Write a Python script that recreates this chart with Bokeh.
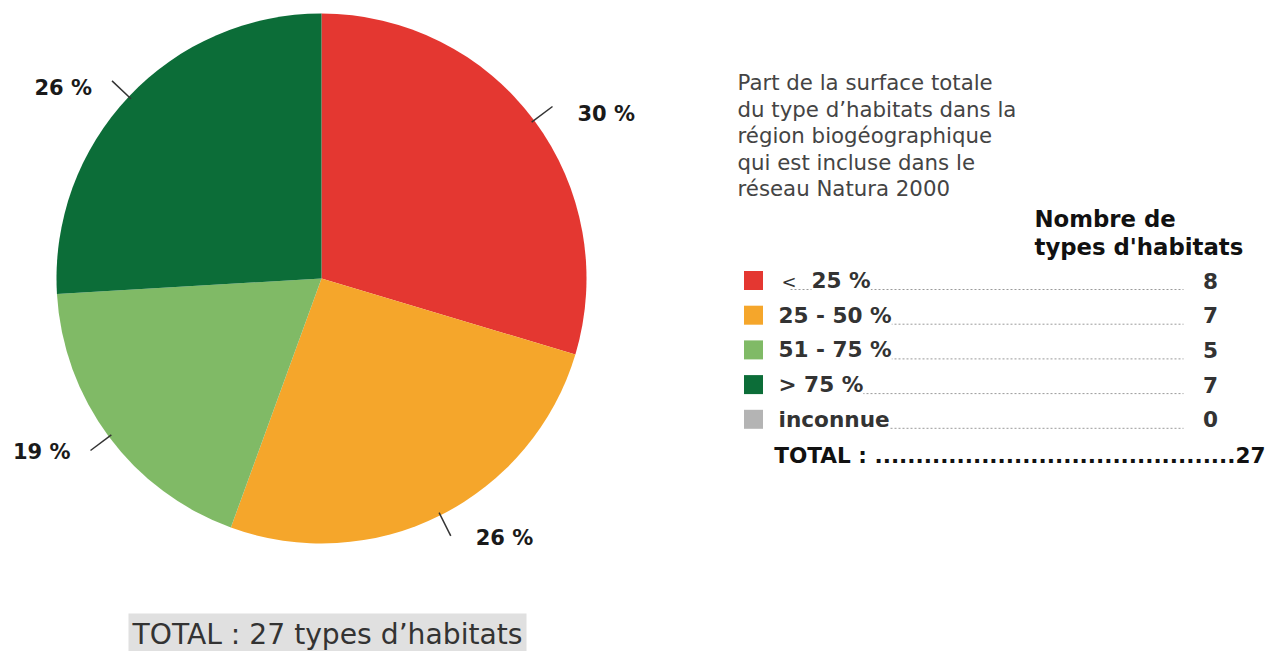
import math
from bokeh.plotting import figure
from bokeh.models import Range1d
from bokeh.core.properties import value
from bokeh.embed import file_html
from bokeh.resources import INLINE

# ---- data ----
categories = ["< 25 %", "25 - 50 %", "51 - 75 %", "> 75 %", "inconnue"]
counts = [8, 7, 5, 7, 0]
colors = ["#E43731", "#F5A62B", "#80BA66", "#0C6D38", "#B4B4B4"]
description = ["Part de la surface totale", "du type d’habitats dans la",
               "région biogéographique", "qui est incluse dans le",
               "réseau Natura 2000"]
header = ["Nombre de", "types d'habitats"]
total_label = "TOTAL : {} types d’habitats"
total = sum(counts)

FONT = value("DejaVu Sans")
W, H = 1268, 651
p = figure(width=W, height=H, x_range=Range1d(0, W), y_range=Range1d(0, H),
           output_backend="svg", toolbar_location=None, min_border=0,
           x_axis_location=None, y_axis_location=None, outline_line_color=None)
p.grid.visible = False


def sy(v):
    return H - v


def txt(x, y, s, **kw):
    base = dict(text_baseline="middle", text_font=FONT)
    base.update(kw)
    p.text(x=x, y=y, text=value(s), **base)


# ---- pie ----
cx, cy, r = 321, sy(278), 265
cum = 0.0
for cat, c, col in zip(categories, counts, colors):
    if c == 0:
        continue
    frac = c / total
    a0 = math.pi / 2 - 2 * math.pi * cum
    a1 = math.pi / 2 - 2 * math.pi * (cum + frac)
    p.wedge(x=cx, y=cy, radius=r, start_angle=a0, end_angle=a1, direction="clock",
            fill_color=col, line_color=None)
    mid = (a0 + a1) / 2
    x1, y1 = cx + 262 * math.cos(mid), cy + 262 * math.sin(mid)
    x2, y2 = cx + 288 * math.cos(mid), cy + 288 * math.sin(mid)
    p.segment(x0=x1, y0=y1, x1=x2, y1=y2, line_color="#333333", line_width=1.5)
    right = math.cos(mid) > 0
    dy = -7 if math.sin(mid) > 0 else -2
    txt(x2 + (25 if right else -20), y2 + dy, f"{round(100 * frac)} %",
        text_align="left" if right else "right", text_font_style="bold",
        text_font_size="21px", text_color="#1a1a1a")
    cum += frac

# ---- description ----
for i, line in enumerate(description):
    txt(737, sy(82 + i * 26.6), line, text_font_size="21.3px", text_color="#444444")

for i, line in enumerate(header):
    txt(1034, sy(218 + i * 28), line, text_font_style="bold", text_font_size="22.8px",
        text_color="#111111")

# ---- legend table ----
for i, (cat, c, col) in enumerate(zip(categories, counts, colors)):
    yc = 280 + i * 34.7
    p.rect(x=753, y=sy(yc), width=19, height=19, fill_color=col, line_color=None)
    p.segment(x0=790, y0=sy(yc + 9), x1=1183, y1=sy(yc + 9), line_color="#9a9a9a",
              line_width=1, line_dash="2 2")
    if cat.startswith("< "):
        txt(781, sy(yc + 1), "<", text_font_size="18px", text_color="#333333")
        lx, lt = 811, cat[2:]
    else:
        lx, lt = 778, cat
    txt(lx, sy(yc), lt, text_font_style="bold", text_font_size="21.6px",
        text_color="#333333", background_fill_color="white")
    txt(1210, sy(yc), str(c), text_align="center", text_font_style="bold",
        text_font_size="21.6px", text_color="#333333")

txt(1265, sy(455), "TOTAL : " + "." * 44 + str(total), text_align="right",
    text_font_style="bold", text_font_size="21.6px", text_color="#111111")

# ---- bottom total box ----
p.quad(left=128, right=526, top=sy(613), bottom=sy(660), fill_color="#E0E0E0",
       line_color=None)
txt(327, sy(634), total_label.format(total), text_align="center",
    text_font_size="28.2px", text_color="#333333")

open("out.html", "w").write(file_html(p, INLINE))
